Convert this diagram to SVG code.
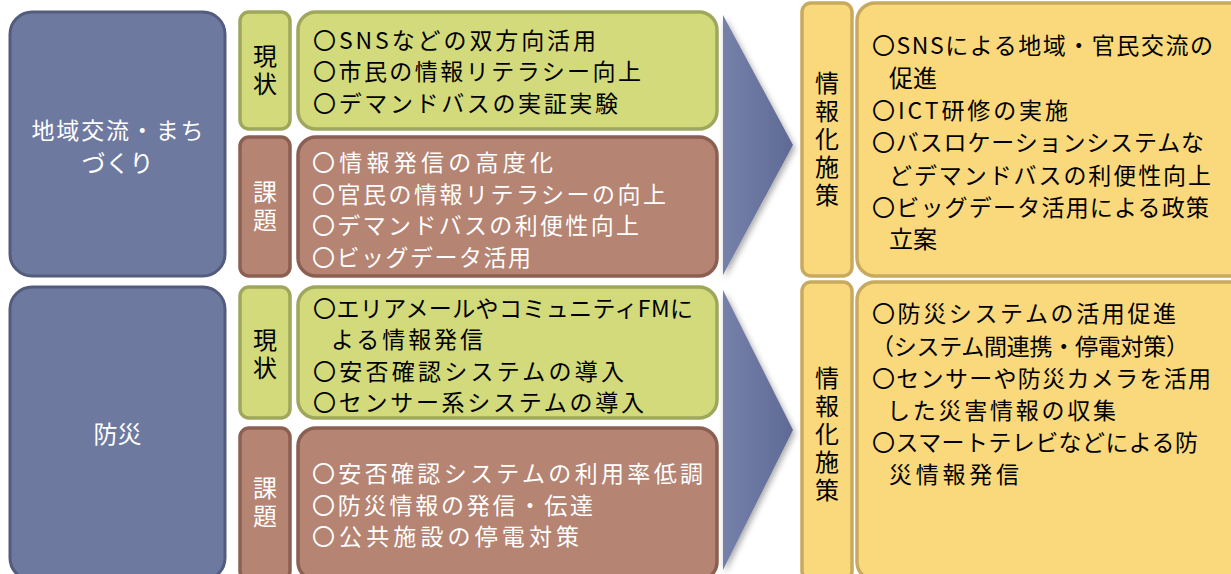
<svg xmlns="http://www.w3.org/2000/svg" width="1231" height="574" viewBox="0 0 1231 574">
<defs>
<style>
text{font-family:"Noto Sans CJK JP","Noto Sans",sans-serif;font-size:23px;}
.blue{fill:#6e799f;stroke:#535c7c;stroke-width:3;}
.green{fill:#d3da7b;stroke:#9fa75c;stroke-width:3.5;}
.brown{fill:#b58472;stroke:#8b5f51;stroke-width:3.5;}
.yellow{fill:#fad97d;stroke:#c8aa5e;stroke-width:3.5;}
.w{fill:#ffffff;}
.k{fill:#000000;}
.mid{text-anchor:middle;}
.big{font-size:24px;}
.vert{writing-mode:vertical-rl;letter-spacing:4px;font-size:24px;}
</style>
<linearGradient id="ag" x1="0" y1="0" x2="1" y2="0">
<stop offset="0" stop-color="#7581aa"/>
<stop offset="1" stop-color="#5f6a95"/>
</linearGradient>
<filter id="sh" x="-20%" y="-10%" width="150%" height="130%">
<feGaussianBlur in="SourceAlpha" stdDeviation="3"/>
<feOffset dx="2" dy="3" result="b"/>
<feComponentTransfer><feFuncA type="linear" slope="0.35"/></feComponentTransfer>
<feMerge><feMergeNode/><feMergeNode in="SourceGraphic"/></feMerge>
</filter>
</defs>
<rect width="1231" height="574" fill="#ffffff"/>

<g id="connectors">
<polygon points="723,15 793,145 723,275" fill="url(#ag)" filter="url(#sh)"/>
<polygon points="723,290 793,430 723,570" fill="url(#ag)" filter="url(#sh)"/>
</g>

<g id="area-community">
<rect class="blue" x="10" y="12" width="215" height="264" rx="22"/>
<text class="w mid" x="117.5" y="139" textLength="172">地域交流・まち</text>
<text class="w mid big" x="117.5" y="172">づくり</text>
</g>

<g id="area-bousai">
<rect class="blue" x="10" y="287" width="215" height="293" rx="22"/>
<text class="w mid big" x="117.5" y="443">防災</text>
</g>

<g id="label-genjo-1">
<rect class="green" x="240" y="12" width="50" height="117" rx="9"/>
<text class="k vert" x="265" y="44">現状</text>
</g>
<g id="content-genjo-1">
<rect class="green" x="298" y="12" width="419" height="117" rx="18"/>
<text class="k" x="313" y="49" textLength="283">〇SNSなどの双方向活用</text>
<text class="k" x="313" y="80" textLength="328">〇市民の情報リテラシー向上</text>
<text class="k" x="313" y="112" textLength="305">〇デマンドバスの実証実験</text>
</g>

<g id="label-kadai-1">
<rect class="brown" x="240" y="137" width="50" height="139" rx="9"/>
<text class="w vert" x="265" y="180">課題</text>
</g>
<g id="content-kadai-1">
<rect class="brown" x="298" y="137" width="419" height="139" rx="18"/>
<text class="w" x="312" y="171" textLength="241">〇情報発信の高度化</text>
<text class="w" x="312" y="203" textLength="354">〇官民の情報リテラシーの向上</text>
<text class="w" x="312" y="234" textLength="327">〇デマンドバスの利便性向上</text>
<text class="w" x="312" y="266" textLength="219">〇ビッグデータ活用</text>
</g>

<g id="label-genjo-2">
<rect class="green" x="240" y="287" width="50" height="131" rx="9"/>
<text class="k vert" x="265" y="328">現状</text>
</g>
<g id="content-genjo-2">
<rect class="green" x="298" y="287" width="419" height="131" rx="18"/>
<text class="k" x="313" y="317" textLength="380">〇エリアメールやコミュニティFMに</text>
<text class="k" x="331" y="348" textLength="152">よる情報発信</text>
<text class="k" x="313" y="380" textLength="311">〇安否確認システムの導入</text>
<text class="k" x="313" y="411" textLength="331">〇センサー系システムの導入</text>
</g>

<g id="label-kadai-2">
<rect class="brown" x="240" y="428" width="50" height="152" rx="9"/>
<text class="w vert" x="265" y="476">課題</text>
</g>
<g id="content-kadai-2">
<rect class="brown" x="298" y="428" width="419" height="152" rx="18"/>
<text class="w" x="312" y="482" textLength="391">〇安否確認システムの利用率低調</text>
<text class="w" x="312" y="514" textLength="281">〇防災情報の発信・伝達</text>
<text class="w" x="312" y="545" textLength="267">〇公共施設の停電対策</text>
</g>

<g id="label-shisaku-1">
<rect class="yellow" x="802" y="3" width="50" height="273" rx="9"/>
<text class="k vert" x="827" y="71">情報化施策</text>
</g>
<g id="content-shisaku-1">
<rect class="yellow" x="857" y="3" width="390" height="273" rx="18"/>
<text class="k" x="872" y="54" textLength="341">〇SNSによる地域・官民交流の</text>
<text class="k big" x="889" y="87">促進</text>
<text class="k" x="872" y="119" textLength="196">〇ICT研修の実施</text>
<text class="k" x="872" y="151" textLength="332">〇バスロケーションシステムな</text>
<text class="k" x="889" y="184" textLength="322">どデマンドバスの利便性向上</text>
<text class="k" x="872" y="216" textLength="337">〇ビッグデータ活用による政策</text>
<text class="k big" x="889" y="248">立案</text>
</g>

<g id="label-shisaku-2">
<rect class="yellow" x="802" y="282" width="50" height="298" rx="9"/>
<text class="k vert" x="827" y="366">情報化施策</text>
</g>
<g id="content-shisaku-2">
<rect class="yellow" x="857" y="282" width="390" height="298" rx="18"/>
<text class="k" x="872" y="322" textLength="304">〇防災システムの活用促進</text>
<text class="k" x="871" y="355" textLength="318">（システム間連携・停電対策）</text>
<text class="k" x="872" y="387" textLength="339">〇センサーや防災カメラを活用</text>
<text class="k" x="887" y="419" textLength="229">した災害情報の収集</text>
<text class="k" x="872" y="451" textLength="326">〇スマートテレビなどによる防</text>
<text class="k" x="889" y="483" textLength="130">災情報発信</text>
</g>
</svg>
